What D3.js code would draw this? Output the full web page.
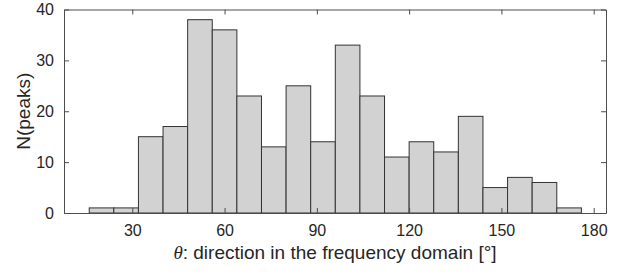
<!DOCTYPE html>
<html lang="en">
<head>
<meta charset="UTF-8" />
<title>histogram</title>
<script src="https://cdn.jsdelivr.net/npm/d3@7"></script>
<style>
    body { margin: 0; background: #fff; }
    svg text { font-family: 'Liberation Sans', Arial, Helvetica, sans-serif; fill: #262626; }
</style>
</head>
<body>
<div id="container"></div>
<script>
    // bin edges are 8 degrees wide, 16..176
    const binStart = [16, 24, 32, 40, 48, 56, 64, 72, 80, 88, 96, 104, 112, 120, 128, 136, 144, 152, 160, 168]
    const binWidth = 8
    const counts = [1, 1, 15, 17, 38, 36, 23, 13, 25, 14, 33, 23, 11, 14, 12, 19, 5, 7, 6, 1]
    const xTicks = [30, 60, 90, 120, 150, 180]
    const yTicks = [0, 10, 20, 30, 40]

    const width = 627
    const height = 275
    const margin = { left: 64, right: 21, top: 9.5, bottom: 62 }

    const svg = d3.select('#container').append('svg').attr('width', width).attr('height', height)

    const x = d3.scaleLinear().domain([7.8, 184]).range([margin.left, width - margin.right])
    const y = d3.scaleLinear().domain([0, 40]).range([height - margin.bottom, margin.top])

    const bins = binStart.map((s, i) => ({ x0: s, x1: s + binWidth, n: counts[i] }))

    svg.selectAll('.bar')
        .data(bins)
        .enter()
        .append('rect')
        .attr('class', 'bar')
        .attr('x', (d) => x(d.x0))
        .attr('width', (d) => x(d.x1) - x(d.x0))
        .attr('y', (d) => y(d.n))
        .attr('height', (d) => y(0) - y(d.n))
        .style('fill', '#d2d2d2')
        .style('stroke', '#333')
        .style('stroke-width', 1)

    const axisColor = '#4d4d4d'
    const tickLen = 5

    // box axes, ticks pointing inward
    const axBottom = svg.append('g').attr('transform', `translate(0,${y(0)})`)
        .call(d3.axisBottom(x).tickValues(xTicks).tickSizeInner(-tickLen).tickSizeOuter(0).tickPadding(12))
    const axTop = svg.append('g').attr('transform', `translate(0,${y(40)})`)
        .call(d3.axisTop(x).tickValues(xTicks).tickSizeInner(-tickLen).tickSizeOuter(0).tickFormat(''))
    const axLeft = svg.append('g').attr('transform', `translate(${x.range()[0]},0)`)
        .call(d3.axisLeft(y).tickValues(yTicks).tickSizeInner(-tickLen).tickSizeOuter(0).tickPadding(10))
    const axRight = svg.append('g').attr('transform', `translate(${x.range()[1]},0)`)
        .call(d3.axisRight(y).tickValues(yTicks).tickSizeInner(-tickLen).tickSizeOuter(0).tickFormat(''))

    ;[axBottom, axTop, axLeft, axRight].forEach((g) => {
        g.selectAll('path, line').attr('stroke', axisColor)
        g.selectAll('text').style('font-size', '16px').attr('fill', '#262626')
    })

    svg.append('text')
        .attr('x', (x.range()[0] + x.range()[1]) / 2)
        .attr('y', 259)
        .attr('text-anchor', 'middle')
        .style('font-size', '19px')
        .call((t) => {
            t.append('tspan').text('θ').style('font-style', 'italic').style('font-family', "'Liberation Serif', serif")
            t.append('tspan').text(': direction in the frequency domain [°]')
        })

    svg.append('text')
        .attr('transform', `translate(30,${(y(0) + y(40)) / 2}) rotate(-90)`)
        .attr('text-anchor', 'middle')
        .style('font-size', '19px')
        .text('N(peaks)')
</script>
</body>
</html>
